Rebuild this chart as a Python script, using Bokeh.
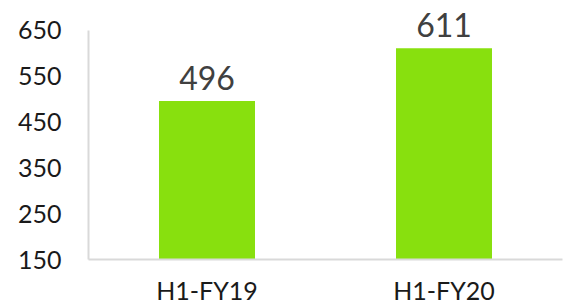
from bokeh.plotting import figure
from bokeh.models import ColumnDataSource, FixedTicker, LabelSet
from bokeh.core.properties import value
from bokeh.embed import file_html
from bokeh.resources import INLINE

categories = ["H1-FY19", "H1-FY20"]
values = [496, 611]
labels = ["496", "611"]
y_ticks = [150, 250, 350, 450, 550, 650]

src = ColumnDataSource(dict(cat=categories, val=values, lab=labels))

p = figure(x_range=categories, y_range=(150, 715), width=564, height=307,
           output_backend="svg", toolbar_location=None,
           min_border_left=88, min_border_right=2, min_border_top=0, min_border_bottom=48)
p.vbar(x="cat", top="val", bottom=150, width=0.405, source=src,
       fill_color="#88E00E", line_color=None)

lbl = LabelSet(x="cat", y="val", text="lab", source=src, text_align="center",
               text_baseline="alphabetic", y_offset=11, text_font=value("Lato"),
               text_font_size="32px", text_color="#404040")
p.add_layout(lbl)

p.grid.visible = False
p.outline_line_color = None
p.background_fill_color = "white"

p.yaxis.ticker = FixedTicker(ticks=y_ticks)
p.yaxis.bounds = (150, 650)
p.yaxis.axis_line_color = "#D9D9D9"
p.yaxis.axis_line_width = 2
p.yaxis.major_tick_line_color = None
p.yaxis.minor_tick_line_color = None
p.yaxis.major_label_standoff = 21
p.yaxis.major_label_text_font = "Lato"
p.yaxis.major_label_text_font_size = "25px"
p.yaxis.major_label_text_color = "#1a1a1a"

p.xaxis.axis_line_color = "#D9D9D9"
p.xaxis.axis_line_width = 2
p.xaxis.major_tick_line_color = None
p.xaxis.minor_tick_line_color = None
p.xaxis.major_label_standoff = 9
p.xaxis.major_label_text_font = "Lato"
p.xaxis.major_label_text_font_size = "25px"
p.xaxis.major_label_text_line_height = 1.0
p.xaxis.major_label_text_color = "#1a1a1a"
p.x_range.range_padding = 0

open("out.html", "w").write(file_html(p, INLINE))
